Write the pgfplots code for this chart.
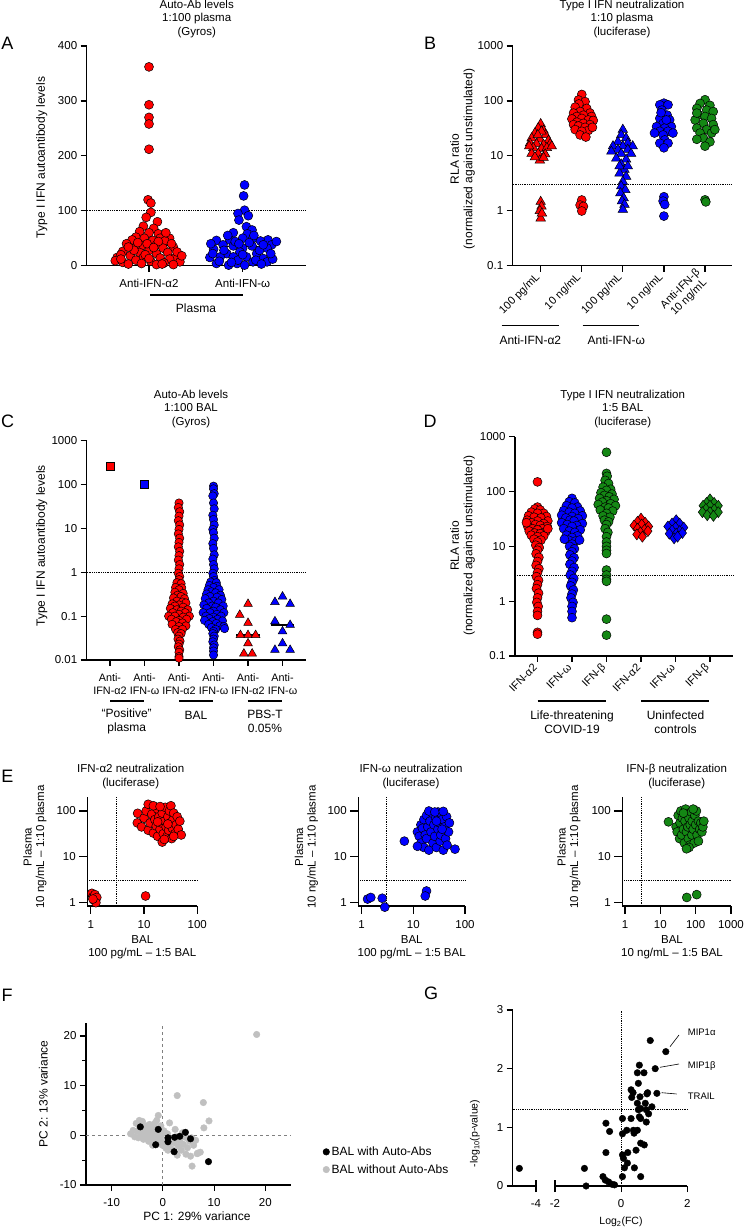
\documentclass[border=0pt]{standalone}
\usepackage{fontspec}
\setmainfont{Liberation Sans}
\usepackage{pgfplots}
\pgfplotsset{compat=1.18}
\definecolor{cr}{RGB}{255,0,0}
\definecolor{cb}{RGB}{0,0,255}
\definecolor{cg}{RGB}{20,135,20}
\definecolor{cgr}{RGB}{192,192,192}
\newcommand{\fl}{\fontsize{12}{13.6}\selectfont}
\newcommand{\fti}{\fontsize{11.5}{13.6}\selectfont}
\newcommand{\ft}{\fontsize{11.5}{12.5}\selectfont}
\newcommand{\fr}{\fontsize{11}{12}\selectfont}
\newcommand{\fp}{\fontsize{18}{20}\selectfont}
\newcommand{\fs}{\fontsize{10.5}{12}\selectfont}
\newcommand{\fa}{\fontsize{9.5}{11}\selectfont}
\pgfplotsset{
  gp/.style={scale only axis, clip=false, axis x line*=bottom, axis y line*=left,
    axis line style={line width=1.2pt}, tick style={line width=1.2pt, black},
    tick align=outside, major tick length=6pt, minor tick length=3.5pt,
    xticklabel shift=4pt,
    tick label style={font=\ft}, /pgf/number format/assume math mode=true},
  mk/.style={only marks, mark size=4.5pt, mark options={fill=#1, draw=black, line width=0.5pt}},
  R/.style={mk=cr, mark=*},
  B/.style={mk=cb, mark=*},
  G/.style={mk=cg, mark=*},
  Rt/.style={mk=cr, mark=triangle*, mark size=5.5pt},
  Bt/.style={mk=cb, mark=triangle*, mark size=5.5pt},
  Rd/.style={mk=cr, mark=diamond*, mark size=5.5pt},
  Bd/.style={mk=cb, mark=diamond*, mark size=5.5pt},
  Gd/.style={mk=cg, mark=diamond*, mark size=5.5pt},
  dl/.style={densely dotted, line width=0.8pt, black},
  md/.style={line width=1.6pt, black},
}
\begin{document}
\begin{tikzpicture}[x=1pt,y=1pt]
\useasboundingbox (0,0) rectangle (750,1229);

% ---------------- A ----------------
\begin{axis}[gp, at={(86.7pt,963.3pt)}, width=219.3pt, height=219.7pt,
  xmin=-0.665, xmax=1.676, ymin=0, ymax=400,
  xtick={0,1}, xticklabels={Anti-IFN-α2,Anti-IFN-ω}, ytick={0,100,200,300,400}]
\addplot[dl] coordinates {(-0.665,100) (1.676,100)};
\addplot[R] coordinates {(0,362) (0,293) (0,270) (0,258) (0,212) (-0.01,120) (0.02,114) (0.02,97) (-0.03,88) (0.09,80) (-0.06,72) (0.05,68) (-0.1,62) (0.1,58) (0,60) (-0.14,52) (0.12,50) (0.22,50) (-0.05,50) (-0.18,47) (0.04,46) (0.17,45) (-0.24,40) (0.08,38) (-0.08,36) (0.26,34) (-0.15,32) (0.15,32) (0,28) (-0.28,26) (-0.1,24) (0.2,24) (0.08,22) (-0.2,18) (-0.34,15) (0.28,15) (-0.06,15) (0.12,14) (-0.14,10) (0.22,12) (0.02,8) (-0.28,6) (-0.22,3) (0.16,5) (0.33,7) (-0.08,4) (0.08,2) (-0.36,9) (0.3,25) (-0.02,40) (0.18,60) (-0.12,42) (-0.3,20) (0.35,18) (-0.16,28) (0.24,40) (0.1,44) (-0.04,20) (0.14,3) (-0.3,12) (0.26,2) (0.05,33) (-0.22,34) (0,13)};
\addplot[B] coordinates {(1.02,147) (1.01,127) (1.02,101) (0.95,95) (1.06,91) (0.96,83) (1.04,71) (1.1,65) (0.9,60) (1.05,58) (1,50) (1.11,50) (0.86,47) (0.72,46) (1.27,47) (1.19,45) (1.31,38) (0.79,38) (0.9,36) (1.1,36) (1,32) (0.69,30) (1.26,32) (0.83,22) (0.97,25) (1.15,22) (0.76,16) (0.9,16) (1.04,16) (1.22,13) (0.72,4) (0.85,1) (0.94,4) (1.11,7) (1.26,7) (1.02,1) (0.66,40) (1.36,44) (1.18,28) (0.8,28) (0.95,10) (1.14,10) (1.32,12) (0.65,15) (1.07,42) (0.92,44) (0.75,8) (1.3,22) (0.88,6) (1.2,3) (1,20) (0.68,22) (1.12,55) (0.84,55) (1.22,38) (0.96,40)};
\addplot[md] coordinates {(-0.23,37.7) (0.23,37.7)};
\addplot[md] coordinates {(0.77,35) (1.24,35)};
\end{axis}

% ---------------- B ----------------
\begin{axis}[gp, at={(512.7pt,963.3pt)}, width=219pt, height=219.7pt,
  xmin=-0.681, xmax=4.65, ymode=log, yminorticks=false, ymin=0.1, ymax=1000,
  ytick={0.1,1,10,100,1000}, yticklabels={0.1,1,10,100,1000},
  xtick={0,1,2,3,4}, xticklabels={100 pg/mL,10 ng/mL,100 pg/mL,10 ng/mL,{Anti-IFN-β\\10 ng/mL}},
  xticklabel shift=1.5pt, xticklabel style={rotate=45, anchor=east, align=center, font=\fr}]
\addplot[dl] coordinates {(-0.681,3) (4.65,3)};
\addplot[Rt] coordinates {(0,38) (-0.06,32) (0.07,29) (-0.14,26) (0.12,24) (-0.22,21) (-0.02,20) (0.19,19) (-0.26,17) (-0.1,16.5) (0.07,16) (0.23,16.5) (-0.18,14) (0.02,13.5) (0.15,14) (-0.22,11) (-0.06,11) (0.11,10.7) (-0.02,8.3) (-0.14,9.5) (0.07,9.3) (0.02,28) (-0.07,24) (0.27,15) (-0.28,15) (0,1.46) (0.02,1.2) (-0.02,1.0) (0,0.73) (0.03,0.9)};
\addplot[R] coordinates {(1,131) (0.92,104) (1.08,97) (0.93,88) (0.84,77) (1.12,73) (0.96,64) (1.2,60) (0.8,60) (1.04,55) (0.88,52) (1.24,52) (1,48) (0.76,47) (1.16,45) (0.88,41) (1.28,44) (1.04,39) (0.8,37) (1.2,37) (0.92,35) (1.08,33) (0.84,30) (1.16,29) (1,28) (0.96,24) (1.1,22) (1.26,33) (1,1.57) (0.96,1.27) (1.04,1.2) (1,0.99)};
\addplot[Bt] coordinates {(2,30) (1.96,24) (2.08,21) (1.88,18) (2.12,17) (1.76,15) (2,15) (2.24,15) (1.88,13) (2.12,13) (1.72,12) (1.96,11) (2.2,11) (1.84,9) (2.08,8.6) (1.96,7) (2.04,5.6) (1.92,4.8) (2.08,4.2) (2,3.4) (1.96,2.8) (2.06,2.4) (1.94,2.1) (2.02,1.7) (1.98,1.5) (2.04,1.3) (2,1.05) (1.92,6.5) (2.12,6.5)};
\addplot[B] coordinates {(3,91) (2.9,85) (3.1,85) (2.95,68) (3.08,55) (2.9,48) (3.14,45) (2.98,39) (2.82,34) (3.18,34) (3.02,32) (2.9,28) (3.1,28) (2.98,24) (2.77,26) (3.22,26) (3.02,19.5) (2.9,17) (3.1,17) (3,14) (2.93,61) (3.06,45) (3,1.8) (2.98,1.5) (3.02,1.3) (3,0.8)};
\addplot[G] coordinates {(4,105) (3.88,90) (4.12,83) (3.8,73) (4.04,68) (4.2,64) (3.84,56) (4,52) (4.16,48) (3.76,45) (3.96,39) (4.2,37) (3.8,32) (4.04,30) (3.88,26) (4.16,26) (3.96,21) (3.8,20) (4.12,18) (4,15) (3.8,60) (4.24,30) (4,1.58) (4.02,1.45)};
\end{axis}

% ---------------- C ----------------
\begin{axis}[gp, at={(86.7pt,569pt)}, width=219.3pt, height=219.3pt,
  xmin=-0.675, xmax=5.68, ymode=log, yminorticks=false, ymin=0.01, ymax=1000,
  ytick={0.01,0.1,1,10,100,1000}, yticklabels={0.01,0.1,1,10,100,1000},
  xtick={0,1,2,3,4,5}, xticklabels={{Anti-\\IFN-α2},{Anti-\\IFN-ω},{Anti-\\IFN-α2},{Anti-\\IFN-ω},{Anti-\\IFN-α2},{Anti-\\IFN-ω}},
  xticklabel style={align=center, font=\fontsize{10.8}{13}\selectfont}]
\addplot[dl] coordinates {(-0.675,1) (5.68,1)};
\addplot[mk=cr, mark=square*, mark size=4pt] coordinates {(0,258)};
\addplot[mk=cb, mark=square*, mark size=4pt] coordinates {(1,100)};
\addplot[R, mark size=4.2pt] coordinates {(2,38) (1.98,30) (2.02,24) (2,19) (1.98,15) (2.02,12) (2,9.5) (1.98,7.5) (2.02,6) (2,4.8) (1.98,3.8) (2.02,3.0) (2,2.4) (1.98,1.9) (2.02,1.5) (2,1.2) (1.98,0.95) (2.02,0.8) (2,0.68) (1.94,0.58) (2.06,0.55) (1.9,0.45) (2.08,0.44) (2,0.4) (1.88,0.35) (2.12,0.33) (1.96,0.3) (2.06,0.28) (1.84,0.26) (2.16,0.25) (1.94,0.22) (2.1,0.21) (1.8,0.19) (2.2,0.2) (2,0.18) (1.88,0.17) (2.12,0.16) (1.75,0.15) (2.25,0.14) (1.94,0.14) (2.06,0.13) (1.82,0.12) (2.18,0.12) (2,0.11) (1.7,0.1) (2.3,0.1) (1.88,0.1) (2.12,0.095) (1.78,0.085) (2.22,0.085) (2,0.08) (1.92,0.075) (2.1,0.07) (1.8,0.065) (2.2,0.06) (2,0.058) (1.9,0.05) (2.1,0.05) (1.96,0.042) (2.06,0.04) (2,0.035) (1.97,0.03) (2.03,0.027) (2,0.023) (1.98,0.02) (2.02,0.017) (2,0.015) (2,0.012) (2,0.011)};
\addplot[B, mark size=4.2pt] coordinates {(3,92) (3,80) (3.02,62) (2.98,55) (3,38) (3.02,28) (2.98,20) (3,16) (3.02,12) (2.98,9.5) (3,8) (3.02,6) (2.98,4.5) (3,3.5) (3.02,2.5) (2.98,2) (3,1.5) (3.02,1.2) (2.98,0.95) (3,0.8) (3.03,0.65) (2.92,0.6) (3.08,0.58) (2.88,0.5) (3.1,0.48) (3,0.45) (2.84,0.4) (3.16,0.4) (2.94,0.36) (3.06,0.34) (2.8,0.32) (3.2,0.3) (2.9,0.28) (3.1,0.27) (2.76,0.25) (3.24,0.24) (3,0.22) (2.86,0.2) (3.14,0.2) (2.72,0.18) (3.28,0.17) (2.96,0.17) (3.06,0.16) (2.8,0.15) (3.2,0.14) (3,0.13) (2.7,0.12) (3.3,0.12) (2.9,0.12) (3.1,0.11) (2.78,0.1) (3.22,0.1) (3,0.095) (2.88,0.088) (3.12,0.085) (2.74,0.08) (3.26,0.078) (2.98,0.075) (3.08,0.068) (2.86,0.065) (3.18,0.06) (3.3,0.058) (3.32,0.052) (2.94,0.055) (3.06,0.05) (3,0.045) (2.98,0.04) (3.02,0.035) (3,0.03) (2.98,0.026) (3.02,0.022) (3,0.019) (3,0.016) (3,0.013)};
\addplot[Rt, mark size=5pt] coordinates {(3.76,0.107) (4,0.19) (4,0.07) (3.78,0.037) (4,0.037) (4.22,0.037) (4,0.024) (3.88,0.014) (4.12,0.014)};
\addplot[Bt, mark size=5pt] coordinates {(4.78,0.21) (5,0.28) (5.22,0.19) (4.78,0.076) (5.22,0.063) (5,0.045) (5,0.024) (4.78,0.017) (5.22,0.017)};
\addplot[md] coordinates {(1.67,0.145) (2.33,0.145)};
\addplot[md] coordinates {(2.67,0.12) (3.33,0.12)};
\addplot[md] coordinates {(3.66,0.037) (4.34,0.037)};
\addplot[md] coordinates {(4.66,0.063) (5.34,0.063)};
\end{axis}

% ---------------- D ----------------
\begin{axis}[gp, at={(515pt,573pt)}, width=218pt, height=219.3pt,
  xmin=-0.652, xmax=5.667, ymode=log, yminorticks=false, ymin=0.1, ymax=1000,
  ytick={0.1,1,10,100,1000}, yticklabels={0.1,1,10,100,1000},
  xtick={0,1,2,3,4,5}, xticklabels={IFN-α2,IFN-ω,IFN-β,IFN-α2,IFN-ω,IFN-β},
  xticklabel shift=1.5pt, xticklabel style={rotate=45, anchor=east, font=\fr}]
\addplot[dl] coordinates {(-0.652,3) (5.667,3)};
\addplot[R] coordinates {(0,150) (0,52) (-0.08,48) (0.08,46) (-0.18,42) (0.18,40) (0,40) (-0.26,36) (0.26,35) (-0.1,34) (0.1,33) (-0.3,30) (0.3,29) (0,29) (-0.18,27) (0.18,26) (-0.06,25) (0.08,24) (-0.28,23) (0.28,23) (-0.14,21) (0.14,21) (0,20) (-0.24,19) (0.24,18.5) (-0.08,17.5) (0.08,17) (-0.18,16) (0.18,15.5) (0,15) (-0.1,13.5) (0.1,13) (0.3,21) (-0.32,27) (0,12) (-0.05,10.5) (0.05,9.5) (0,8.5) (-0.04,7.3) (0.04,6.3) (0,5.3) (-0.04,4.5) (0.04,3.9) (0,3.3) (-0.03,2.8) (0.03,2.4) (0,2.0) (-0.03,1.7) (0.03,1.4) (0,1.15) (-0.02,0.95) (0.02,0.8) (0,0.65) (0,0.55) (0,0.27) (0,0.25)};
\addplot[B] coordinates {(1,75) (0.92,65) (1.08,62) (0.84,55) (1.16,52) (1,50) (0.76,45) (1.24,44) (0.92,42) (1.08,40) (0.7,37) (1.3,36) (1,35) (0.82,33) (1.18,32) (0.94,30) (1.06,29) (0.7,27) (1.3,26) (0.86,25) (1.14,24) (1,23) (0.76,21) (1.24,20) (0.92,19) (1.08,18) (0.84,16) (1.16,15.5) (1,14.5) (0.9,13) (1.1,12.5) (0.78,13.5) (1.22,13) (1,11) (0.93,10) (1.07,9) (1,8) (0.94,7) (1.06,6.2) (1,5.4) (0.94,4.7) (1.06,4.1) (1,3.5) (0.95,3.0) (1.05,2.6) (1,2.2) (0.96,1.9) (1.04,1.6) (1,1.35) (0.97,1.15) (1.03,0.95) (1,0.8) (1,0.65) (1,0.5)};
\addplot[G] coordinates {(2,520) (2,214) (2.02,190) (1.96,160) (2.06,140) (1.9,120) (2.12,110) (2,105) (1.84,95) (2.16,90) (1.94,85) (2.08,80) (1.8,75) (2.22,72) (2,68) (1.88,64) (2.12,60) (1.76,58) (2.26,55) (1.96,52) (2.06,50) (1.82,46) (2.18,44) (2,40) (1.9,36) (2.1,34) (1.94,30) (2.06,28) (2,25) (1.96,21) (2.04,18) (2,15) (2,12) (2,10) (2,8.5) (2,7.4) (2,3.7) (2,3.0) (2,2.5) (2,2.3) (2,0.47) (2,0.24)};
\addplot[Rd] coordinates {(3,32) (2.9,28) (3.12,27) (2.8,24) (3.02,25) (3.22,23) (2.9,21) (3.1,20) (2.98,18) (3.2,19) (2.88,16.5) (3.04,15)};
\addplot[Bd] coordinates {(4.02,30) (3.9,26) (4.12,26) (3.78,23) (4,22) (4.24,22) (3.9,19.5) (4.12,19) (3.82,17) (4.02,17) (4.2,17.5) (3.96,14) (4.06,15)};
\addplot[Gd] coordinates {(5,72) (4.9,62) (5.12,62) (4.8,55) (5,55) (5.24,55) (4.88,48) (5.12,47) (4.78,42) (5,42) (5.24,42) (4.92,37) (5.1,36)};
\end{axis}

% ---------------- E ----------------
\begin{axis}[gp, at={(87.3pt,323pt)}, width=110pt, height=109.3pt, xmode=log, ymode=log,
  xminorticks=false, yminorticks=false, major tick length=8pt, xticklabel shift=3pt,
  ymin=0.847, ymax=205, ytick={1,10,100}, yticklabels={1,10,100},
  xmin=0.863, xmax=100, xtick={1,10,100}, xticklabels={1,10,100}]
\addplot[dl] coordinates {(0.863,3) (100,3)};
\addplot[dl] coordinates {(3,0.847) (3,205)};
\addplot[R] coordinates {(7.6,89) (7.5,55) (9,45) (10,70) (11,100) (12,140) (12,38) (13,55) (14,85) (15,33) (16,65) (17,47) (18,110) (18,28) (19,75) (20,40) (21,55) (22,90) (22,21) (23,32) (24,60) (25,120) (26,45) (27,28) (28,75) (29,38) (30,100) (31,55) (32,130) (33,25) (34,42) (35,65) (36,90) (38,32) (40,50) (42,75) (44,40) (47,60) (50,30) (15,130) (20,125) (28,52) (18,58) (24,24) (36,28) (1.05,1.6) (1.1,1.35) (1.2,1.5) (1.15,1.14) (1.3,1.3) (1.25,1.0) (1.1,1.2) (10.7,1.4)};
\end{axis}
\begin{axis}[gp, at={(358.3pt,323pt)}, width=106.7pt, height=109.3pt, xmode=log, ymode=log,
  xminorticks=false, yminorticks=false, major tick length=8pt, xticklabel shift=3pt,
  ymin=0.847, ymax=205, ytick={1,10,100}, yticklabels={1,10,100},
  xmin=0.86, xmax=100, xtick={1,10,100}, xticklabels={1,10,100}]
\addplot[dl] coordinates {(0.86,3) (100,3)};
\addplot[dl] coordinates {(3,0.847) (3,205)};
\addplot[B] coordinates {(12,35) (13,28) (14,50) (14,20) (15,42) (16,65) (16,16) (17,30) (18,80) (18,25) (19,45) (20,14) (21,60) (22,35) (23,90) (24,20) (25,50) (26,28) (27,70) (28,16) (30,95) (30,40) (32,55) (33,22) (34,30) (35,85) (36,65) (38,14) (40,45) (42,25) (44,75) (45,18) (48,35) (50,55) (20,100) (26,95) (38,98) (12,17) (28,60) (36,40) (1.3,1.2) (1.5,1.3) (2.5,1.25) (2.8,0.8) (18,1.8) (17,1.4) (6.7,22) (64,14.7)};
\end{axis}
\begin{axis}[gp, at={(622.3pt,323pt)}, width=108.7pt, height=109.3pt, xmode=log, ymode=log,
  xminorticks=false, yminorticks=false, major tick length=8pt, xticklabel shift=3pt,
  ymin=0.847, ymax=205, ytick={1,10,100}, yticklabels={1,10,100},
  xmin=0.839, xmax=1000, xtick={1,10,100,1000}, xticklabels={1,10,100,1000}]
\addplot[dl] coordinates {(0.839,3) (1000,3)};
\addplot[dl] coordinates {(3,0.847) (3,205)};
\addplot[G] coordinates {(28,45) (30,35) (32,80) (35,25) (36,55) (38,100) (40,30) (42,70) (45,40) (48,20) (50,60) (52,110) (55,35) (58,85) (60,45) (62,25) (65,70) (68,18) (70,50) (75,95) (78,30) (80,60) (85,40) (90,20) (95,80) (100,50) (105,100) (110,30) (120,60) (130,40) (140,55) (150,35) (160,45) (170,60) (65,16) (85,110) (45,90) (120,22) (55,15) (17,58) (56,1.3) (107,1.5)};
\end{axis}

% ---------------- F ----------------
\begin{axis}[gp, at={(86pt,44pt)}, width=205pt, height=161.7pt,
  xmin=-15, xmax=25, ymin=-10, ymax=22.55, xtick={-10,0,10,20}, ytick={-10,0,10,20},
  minor ytick={-5,5,15},
  reverse legend, legend cell align=left,
  legend style={draw=none, fill=none, font=\fl, at={(1.155,0.25)}, anchor=north west, inner sep=0pt, row sep=3.5pt}]
\addplot[dashed, gray, line width=0.9pt, forget plot] coordinates {(0,-10) (0,22.55)};
\addplot[dashed, gray, line width=0.9pt, forget plot] coordinates {(-15,0) (25,0)};
\addplot[only marks, mark=*, mark size=3.3pt, mark options={draw=cgr, fill=cgr}] coordinates {(18.3,20.3) (2.8,8.0) (7.9,6.6) (9.0,2.9) (8.0,1.5) (-0.9,4.0) (1.3,2.5) (5.4,-4.2) (5.7,-6.2) (6.7,-3.7) (7.3,-3.4) (-6.3,0.3) (-5.8,1.0) (-5.5,-0.3) (-5.2,2.4) (-5.0,0.8) (-4.8,-0.5) (-4.5,1.5) (-4.2,0.2) (-4.0,2.8) (-3.8,-0.8) (-3.6,1.0) (-3.3,1.9) (-3.1,-0.2) (-3.0,0.6) (-2.8,-1.2) (-2.6,2.2) (-2.5,1.2) (-2.3,-0.6) (-2.1,0.3) (-2.0,1.6) (-1.8,-1.0) (-1.6,2.4) (-1.5,0.8) (-1.3,-0.3) (-1.1,1.1) (-1.0,-1.5) (-0.8,0.4) (-0.6,-0.8) (-0.4,1.9) (-0.3,0.0) (-0.1,-2.0) (0.2,0.9) (0.4,-1.2) (0.6,-2.6) (0.9,0.3) (1.2,-1.8) (1.5,-0.8) (1.8,-2.8) (2.2,-1.5) (2.6,-0.3) (3.0,-2.2) (3.3,-1.0) (3.6,-3.0) (4.0,-1.8) (4.4,-0.4) (4.8,-2.5) (5.2,-1.2) (5.6,-0.5) (6.0,-2.0) (6.4,-1.0) (6.8,-3.6) (3.8,0.5) (2.4,1.2) (-2.0,-2.0) (1.0,-3.0) (-4.6,3.0) (-1.2,3.0) (4.5,-3.8) (2.8,-4.0)};
\addlegendentry{BAL without Auto-Abs}
\addplot[only marks, mark=*, mark size=3.3pt, mark options={draw=black, fill=black}] coordinates {(-4.4,1.7) (-0.9,1.2) (-1.4,-1.9) (1.0,-0.5) (1.0,-1.3) (2.3,-0.4) (3.3,-0.2) (4.4,0.6) (5.4,-0.7) (2.2,-3.3) (8.9,-5.3)};
\addlegendentry{BAL with Auto-Abs}
\end{axis}

% ---------------- G ----------------
\begin{axis}[gp, at={(512.7pt,43pt)}, width=23.3pt, height=176pt,
  xmin=-4.7, xmax=-4, ymin=0, ymax=3, xtick={-4}, xticklabels={-4}, ytick={0,1,2,3}]
\addplot[only marks, mark=*, mark size=3.3pt, black] coordinates {(-4.5,0.3)};
\draw[line width=1.2pt] (axis cs:-4,0) -- (axis cs:-4,0.1);
\end{axis}
\begin{axis}[gp, at={(555pt,43pt)}, width=132.3pt, height=176pt, axis y line=none,
  xmin=-2, xmax=2, ymin=0, ymax=3, xtick={-2,0,2}, xticklabels={-2,0,2}]
\addplot[dl] coordinates {(0,0) (0,3)};
\addplot[dl] coordinates {(-3.28,1.3) (2,1.3)};
\draw[line width=1.2pt] (axis cs:-2,0) -- (axis cs:-2,0.1);
\addplot[only marks, mark=*, mark size=3.3pt, black] coordinates {(-1.11,0.30) (-1.06,0.0) (-0.55,0.16) (-0.48,0.10) (-0.46,1.07) (-0.46,0.57) (-0.35,0.93) (-0.38,0.07) (-0.28,0.03) (-0.2,0.02) (0.04,1.15) (0.04,0.89) (0.04,0.53) (0.07,0.47) (0.04,0.16) (0.1,0.31) (0.19,0.39) (0.2,0.57) (0.17,0.95) (0.3,1.15) (0.3,1.64) (0.32,1.51) (0.36,1.59) (0.37,0.95) (0.39,0.9) (0.4,0.31) (0.45,0.61) (0.49,1.93) (0.49,1.41) (0.49,0.95) (0.52,1.3) (0.52,1.75) (0.55,2.06) (0.57,1.52) (0.59,1.32) (0.59,1.15) (0.59,0.73) (0.59,0.16) (0.55,1.18) (0.69,1.93) (0.7,0.7) (0.73,1.41) (0.76,1.3) (0.76,1.09) (0.78,1.57) (0.8,1.59) (0.83,1.23) (0.88,2.48) (0.93,1.35) (1.03,2.0) (1.08,1.58) (1.35,2.29)};
\end{axis}

% ---------------- texts ----------------
\node[font=\fti, align=center] at (196.7,1210) {Auto-Ab levels\\1:100 plasma\\(Gyros)};
\node[font=\fti, align=center] at (622,1210) {Type I IFN neutralization\\1:10 plasma\\(luciferase)};
\node[font=\fp] at (7.5,1186) {A};
\node[font=\fp] at (430,1186) {B};
\node[font=\fl, rotate=90] at (41.7,1071.5) {Type I IFN autoantibody levels};
\node[font=\fl, rotate=90, align=center] at (462.5,1070) {RLA ratio\\(normalized against unstimulated)};
\draw[line width=1.2pt] (150,934) -- (243,934);
\node[font=\fl] at (196,921) {Plasma};
\draw[line width=1.2pt] (501.7,903.3) -- (559,903.3);
\draw[line width=1.2pt] (582.7,903.3) -- (639.3,903.3);
\node[font=\fl] at (530.3,889) {Anti-IFN-α2};
\node[font=\fl] at (616.3,889) {Anti-IFN-ω};

\node[font=\fti, align=center] at (191,820) {Auto-Ab levels\\1:100 BAL\\(Gyros)};
\node[font=\fp] at (7.5,807.3) {C};
\node[font=\fl, rotate=90] at (41.7,683.2) {Type I IFN autoantibody levels};
\draw[line width=1.2pt] (110,528) -- (144.3,528);
\draw[line width=1.2pt] (179.3,528) -- (213.3,528);
\draw[line width=1.2pt] (247.7,528) -- (282.3,528);
\node[font=\fl, align=center] at (126.7,507.4) {“Positive”\\plasma};
\node[font=\fl] at (196,514) {BAL};
\node[font=\fl, align=center] at (265,507.4) {PBS-T\\0.05\%};

\node[font=\fti, align=center] at (622.7,820) {Type I IFN neutralization\\1:5 BAL\\(luciferase)};
\node[font=\fp] at (430,807.3) {D};
\node[font=\fl, rotate=90, align=center] at (462.5,683.2) {RLA ratio\\(normalized against unstimulated)};
\draw[line width=1.2pt] (537.7,528) -- (605.7,528);
\draw[line width=1.2pt] (641.3,528) -- (709,528);
\node[font=\fl, align=center] at (572,506.5) {Life-threatening\\COVID-19};
\node[font=\fl, align=center] at (675.5,506.5) {Uninfected\\controls};

\node[font=\fp] at (7.5,452.3) {E};
\node[font=\fti, align=center] at (130.7,452.3) {IFN-α2 neutralization\\(luciferase)};
\node[font=\fti, align=center] at (411,452.3) {IFN-ω neutralization\\(luciferase)};
\node[font=\fti, align=center] at (676.7,452.3) {IFN-β neutralization\\(luciferase)};
\node[font=\ft, rotate=90, align=center] at (35,382) {Plasma\\10 ng/mL – 1:10 plasma};
\node[font=\ft, rotate=90, align=center] at (306.3,382) {Plasma\\10 ng/mL – 1:10 plasma};
\node[font=\ft, rotate=90, align=center] at (569,382) {Plasma\\10 ng/mL – 1:10 plasma};
\node[font=\ft, align=center] at (142.3,282) {BAL\\100 pg/mL – 1:5 BAL};
\node[font=\ft, align=center] at (411.7,282) {BAL\\100 pg/mL – 1:5 BAL};
\node[font=\ft, align=center] at (672,282) {BAL\\10 ng/mL – 1:5 BAL};

\node[font=\fp] at (7,234) {F};
\node[font=\fl, rotate=90] at (43.3,135) {PC 2: 13\% variance};
\node[font=\fl] at (197,13) {PC 1: 29\% variance};

\node[font=\fp] at (431,236) {G};
\node[font=\fs, rotate=90] at (475,95.4) {-log\textsubscript{10}(p-value)};
\node[font=\fs] at (621,7.3) {Log\textsubscript{2}(FC)};
\node[font=\fa, anchor=west] at (684.3,196.3) {MIP1α};
\node[font=\fa, anchor=west] at (684.3,163.3) {MIP1β};
\node[font=\fa, anchor=west] at (684.3,133) {TRAIL};
\draw[line width=0.6pt] (670,182.3) -- (679,194);
\draw[line width=0.6pt] (660,161.7) -- (679,165);
\draw[line width=0.6pt] (661.7,136.3) -- (676.7,135);
\end{tikzpicture}
\end{document}
